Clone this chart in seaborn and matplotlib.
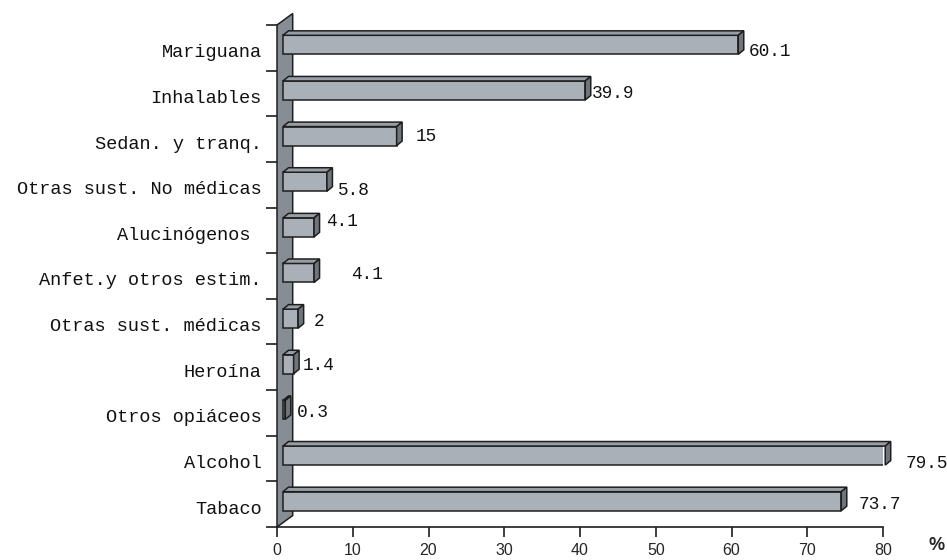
import numpy as np
import pandas as pd
import matplotlib
matplotlib.use('Agg')
import matplotlib.pyplot as plt
import matplotlib.transforms as mtransforms
from matplotlib.patches import Polygon
import seaborn as sns

# Data
categories = ["Mariguana", "Inhalables", "Sedan. y tranq.", "Otras sust. No médicas",
              "Alucinógenos ", "Anfet.y otros estim.", "Otras sust. médicas",
              "Heroína", "Otros opiáceos", "Alcohol", "Tabaco"]
values = [60.1, 39.9, 15, 5.8, 4.1, 4.1, 2, 1.4, 0.3, 79.5, 73.7]
x_ticks = [0, 10, 20, 30, 40, 50, 60, 70, 80]

# Label nudges (pixels, right / down) to mimic the original placement
label_nudge = [(5, 6.5), (1.5, 3.3), (14, 0), (5.3, 8.7), (7, -6), (31.5, 1.5),
               (10.4, 2.6), (3.3, 1.3), (6, 2.4), (14.7, 7.7), (12, 3)]

FRONT = "#aab0b7"
TOP = "#989ea5"
SIDE = "#6e757c"
WALL = "#878d94"
EDGE = "#1e1e1e"

sns.set_style("white")
plt.rcParams['font.family'] = ['Liberation Mono', 'DejaVu Sans Mono']

df = pd.DataFrame({"cat": categories, "val": values})

fig = plt.figure(figsize=(9.47, 5.6), dpi=100)
W, H = 947, 560
ax = fig.add_axes([277 / W, 1 - 527 / H, (883 - 277) / W, (527 - 25) / H])

n = len(categories)
px_x = (883 - 277) / 80.0        # pixels per x unit
px_y = (527 - 25) / float(n)     # pixels per category

sns.barplot(data=df, x="val", y="cat", orient="h", color=FRONT, width=19 / px_y,
            edgecolor=EDGE, linewidth=1.1, saturation=1, ax=ax, zorder=3)

ax.set_xlim(0, 80)
ax.set_ylim(n - 0.5, -0.5)

# 3D-ish depth
dx0 = 6 / px_x
shift = 3 / px_y
ddx = 5.5 / px_x
ddy = -4.5 / px_y

# back wall
wx, wy = 15.7 / px_x, 11.5 / px_y
wall = Polygon([(0, n - 0.5), (0, -0.5), (wx, -0.5 - wy), (wx, n - 0.5 - wy)],
               closed=True, facecolor=WALL, edgecolor=EDGE, linewidth=1.1,
               zorder=1, clip_on=False)
ax.add_patch(wall)

for i, p in enumerate(ax.patches[:n]):
    p.set_x(p.get_x() + dx0)
    p.set_y(p.get_y() - shift)
    x0, x1 = p.get_x(), p.get_x() + p.get_width()
    yt, yb = p.get_y(), p.get_y() + p.get_height()
    top = Polygon([(x0, yt), (x1, yt), (x1 + ddx, yt + ddy), (x0 + ddx, yt + ddy)],
                  closed=True, facecolor=TOP, edgecolor=EDGE, linewidth=1.1,
                  zorder=3, clip_on=False)
    side = Polygon([(x1, yt), (x1 + ddx, yt + ddy), (x1 + ddx, yb + ddy), (x1, yb)],
                   closed=True, facecolor=SIDE, edgecolor=EDGE, linewidth=1.1,
                   zorder=3, clip_on=False)
    ax.add_patch(top)
    ax.add_patch(side)
    nx, ny = label_nudge[i]
    ax.annotate(f"{values[i]:g}", xy=(x1 + ddx, (yt + yb) / 2),
                xytext=(nx * 0.72, -ny * 0.72), textcoords="offset points",
                ha="left", va="center", fontsize=12.8, color="#111111",
                annotation_clip=False)

# axes styling
for s in ["top", "right", "left"]:
    ax.spines[s].set_visible(False)
ax.spines["bottom"].set_linewidth(1.2)
ax.spines["bottom"].set_color(EDGE)

ax.set_xticks(x_ticks)
ax.set_xticklabels([str(t) for t in x_ticks], family="Liberation Sans", fontsize=11.5)
ax.tick_params(axis="x", bottom=True, direction="out", length=7.2, width=1.2,
               pad=4.5, color=EDGE)

ax.set_yticks(np.arange(n))
ax.set_yticklabels(categories, fontsize=13.4, color="#111111")
ax.set_yticks(np.arange(n + 1) - 0.5, minor=True)
ax.tick_params(axis="y", which="major", left=False, length=0, pad=11)
ax.tick_params(axis="y", which="minor", left=True, direction="out", length=7.9,
               width=1.2, color=EDGE)
nudge = mtransforms.ScaledTranslation(0, -3 / 100, fig.dpi_scale_trans)
for lab in ax.get_yticklabels():
    lab.set_transform(lab.get_transform() + nudge)

ax.set_xlabel("")
ax.set_ylabel("")

fig.text(937 / W, 1 - 545 / H, "%", family="Liberation Sans", fontweight="bold",
         fontsize=13, ha="center", va="center")

fig.savefig("out.png", dpi=100)
